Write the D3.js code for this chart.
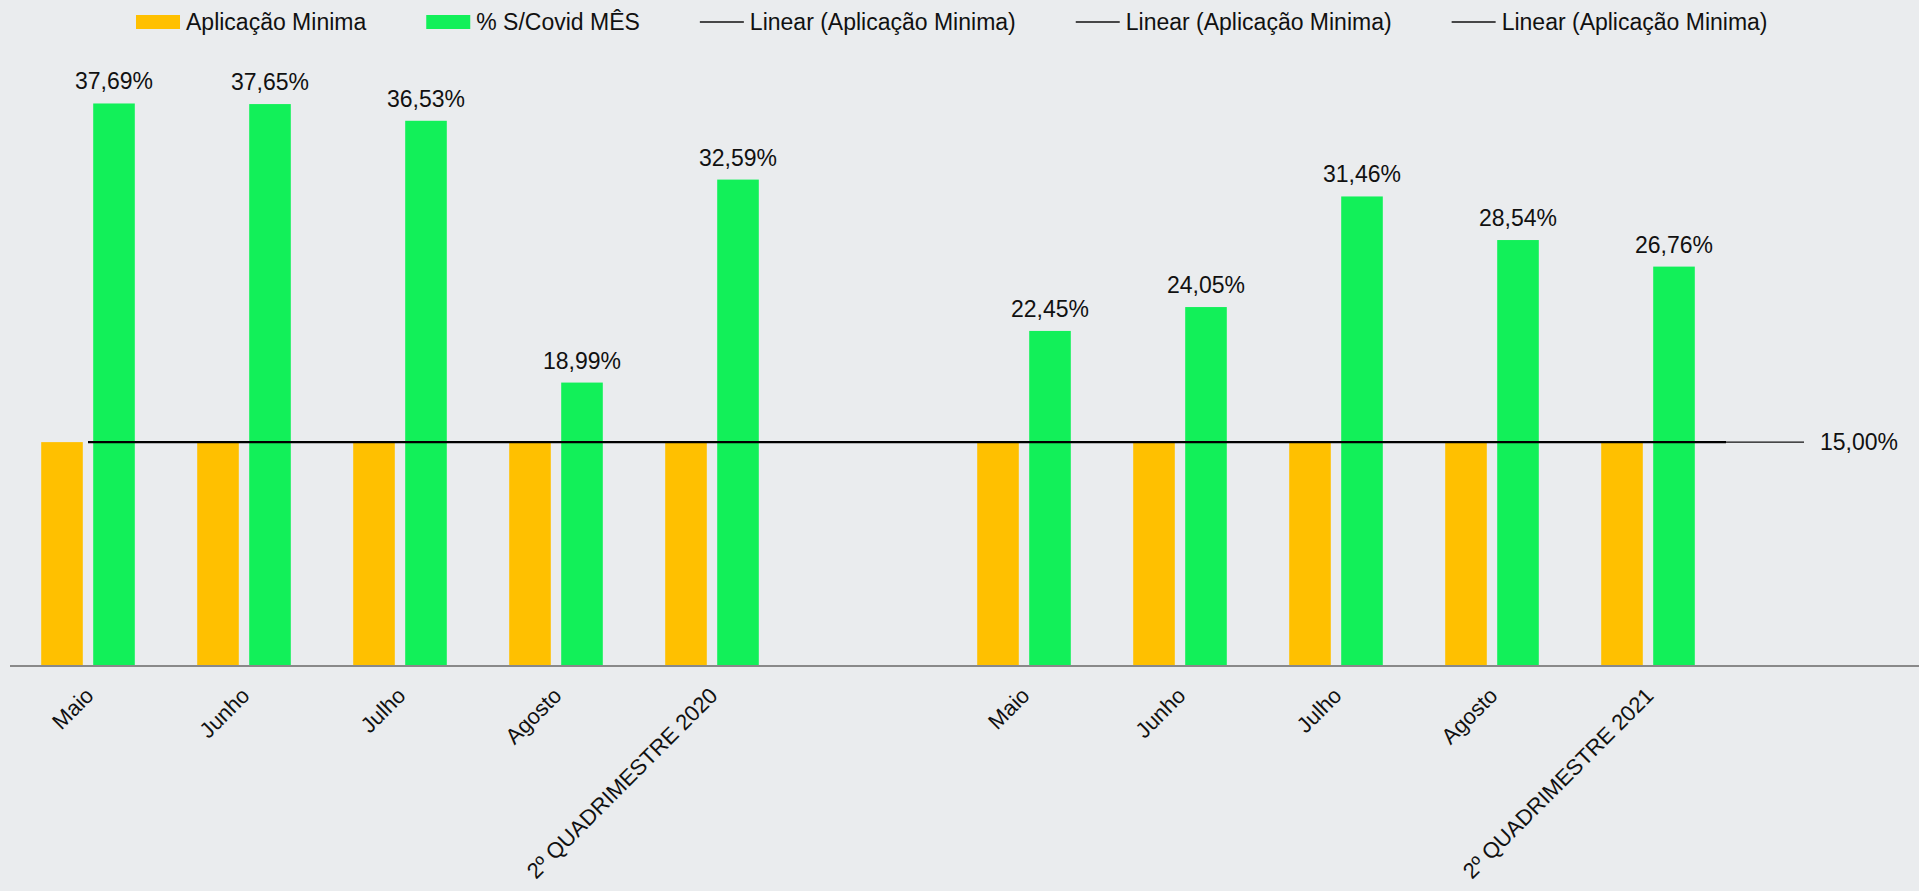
<!DOCTYPE html>
<html>
<head>
<meta charset="utf-8">
<script src="https://cdn.jsdelivr.net/npm/d3@7"></script>
<style>
  html, body { margin: 0; padding: 0; background: #eaecee; }
  svg { display: block; font-family: "Liberation Sans", Arial, sans-serif; }
</style>
</head>
<body>
<svg></svg>
<script>
var w = 1919, h = 891;
var fontsize = 23, axisFontsize = 22;

// categories (blank slots keep the gap between years and at the end)
var categories = ["Maio", "Junho", "Julho", "Agosto", "2º QUADRIMESTRE 2020", "",
                  "Maio", "Junho", "Julho", "Agosto", "2º QUADRIMESTRE 2021", ""];
var aplicacaoMinima = [15, 15, 15, 15, 15, null, 15, 15, 15, 15, 15, null];
var covidMes = [37.69, 37.65, 36.53, 18.99, 32.59, null, 22.45, 24.05, 31.46, 28.54, 26.76, null];
var minimo = 15;
var seriesNames = ["Aplicação Minima", "% S/Covid MÊS"];
var trendName = "Linear (Aplicação Minima)";
var colors = ["#ffc000", "#12f059"];

var svg = d3.select("svg").attr("width", w).attr("height", h);

var x0 = d3.scaleBand()
    .domain(d3.range(categories.length))
    .range([10, 1882])
    .paddingInner(0.4)
    .paddingOuter(0.2);

var x1 = d3.scaleBand()
    .domain([0, 1])
    .range([0, x0.bandwidth()])
    .paddingInner(0.2);

var y = d3.scaleLinear().domain([0, 40]).range([666, 69]);

var fmt = function (v) { return v.toFixed(2).replace(".", ",") + "%"; };

// bars
var groups = svg.append("g").selectAll("g")
    .data(categories.map(function (c, i) { return i; }))
    .enter().append("g")
    .attr("transform", function (i) { return "translate(" + x0(i) + ",0)"; });

groups.selectAll("rect")
    .data(function (i) { return [aplicacaoMinima[i], covidMes[i]]; })
    .enter().filter(function (d) { return d != null; })
    .append("rect")
    .attr("x", function (d, j) { return x1(j); })
    .attr("y", function (d) { return y(d); })
    .attr("width", x1.bandwidth())
    .attr("height", function (d) { return y(0) - y(d); })
    .attr("fill", function (d, j) { return colors[j]; });

// data labels on the green bars
svg.append("g").selectAll("text")
    .data(covidMes.map(function (v, i) { return {v: v, i: i}; }).filter(function (d) { return d.v != null; }))
    .enter().append("text")
    .attr("x", function (d) { return x0(d.i) + x1(1) + x1.bandwidth() / 2; })
    .attr("y", function (d) { return y(d.v) - 14; })
    .attr("text-anchor", "middle")
    .attr("font-size", fontsize)
    .attr("fill", "#111")
    .text(function (d) { return fmt(d.v); });

// x axis line
svg.append("line")
    .attr("x1", 10).attr("x2", w)
    .attr("y1", y(0)).attr("y2", y(0))
    .attr("stroke", "#898989")
    .attr("stroke-width", 2);

// category labels
svg.append("g").selectAll("text")
    .data(categories.map(function (c, i) { return {c: c, i: i}; }).filter(function (d) { return d.c !== ""; }))
    .enter().append("text")
    .attr("transform", function (d) {
        return "translate(" + (x0(d.i) + x0.bandwidth() / 2 + 7) + "," + (y(0) + 31) + ") rotate(-45)";
    })
    .attr("text-anchor", "end")
    .attr("font-size", axisFontsize)
    .attr("fill", "#111")
    .text(function (d) { return d.c; });

// trendlines (Aplicação Minima)
var cx = function (i) { return x0(i) + x0.bandwidth() / 2; };
var last = categories.length - 1;
svg.append("line")
    .attr("x1", cx(0)).attr("x2", cx(last))
    .attr("y1", y(minimo)).attr("y2", y(minimo))
    .attr("stroke", "#111").attr("stroke-width", 1.3);
svg.append("line")
    .attr("x1", cx(0)).attr("x2", (cx(last - 1) + cx(last)) / 2)
    .attr("y1", y(minimo)).attr("y2", y(minimo))
    .attr("stroke", "#000").attr("stroke-width", 2.2);

svg.append("text")
    .attr("x", cx(last) + 16)
    .attr("y", y(minimo))
    .attr("dy", "0.35em")
    .attr("font-size", fontsize)
    .attr("fill", "#111")
    .text(fmt(minimo));

// legend
var legendItems = [
    {name: seriesNames[0], type: "rect", color: colors[0]},
    {name: seriesNames[1], type: "rect", color: colors[1]},
    {name: trendName, type: "line"},
    {name: trendName, type: "line"},
    {name: trendName, type: "line"}
];
var legend = svg.append("g");
var lx = 136, ly = 22;
legendItems.forEach(function (it) {
    if (it.type == "rect") {
        legend.append("rect")
            .attr("x", lx).attr("y", ly - 7)
            .attr("width", 44).attr("height", 14)
            .attr("fill", it.color);
    } else {
        legend.append("line")
            .attr("x1", lx).attr("x2", lx + 44)
            .attr("y1", ly).attr("y2", ly)
            .attr("stroke", "#111").attr("stroke-width", 1.5);
    }
    var t = legend.append("text")
        .attr("x", lx + 50)
        .attr("y", ly)
        .attr("dy", "0.35em")
        .attr("font-size", fontsize)
        .attr("fill", "#111")
        .text(it.name);
    lx += 50 + t.node().getComputedTextLength() + 60;
});
</script>
</body>
</html>
